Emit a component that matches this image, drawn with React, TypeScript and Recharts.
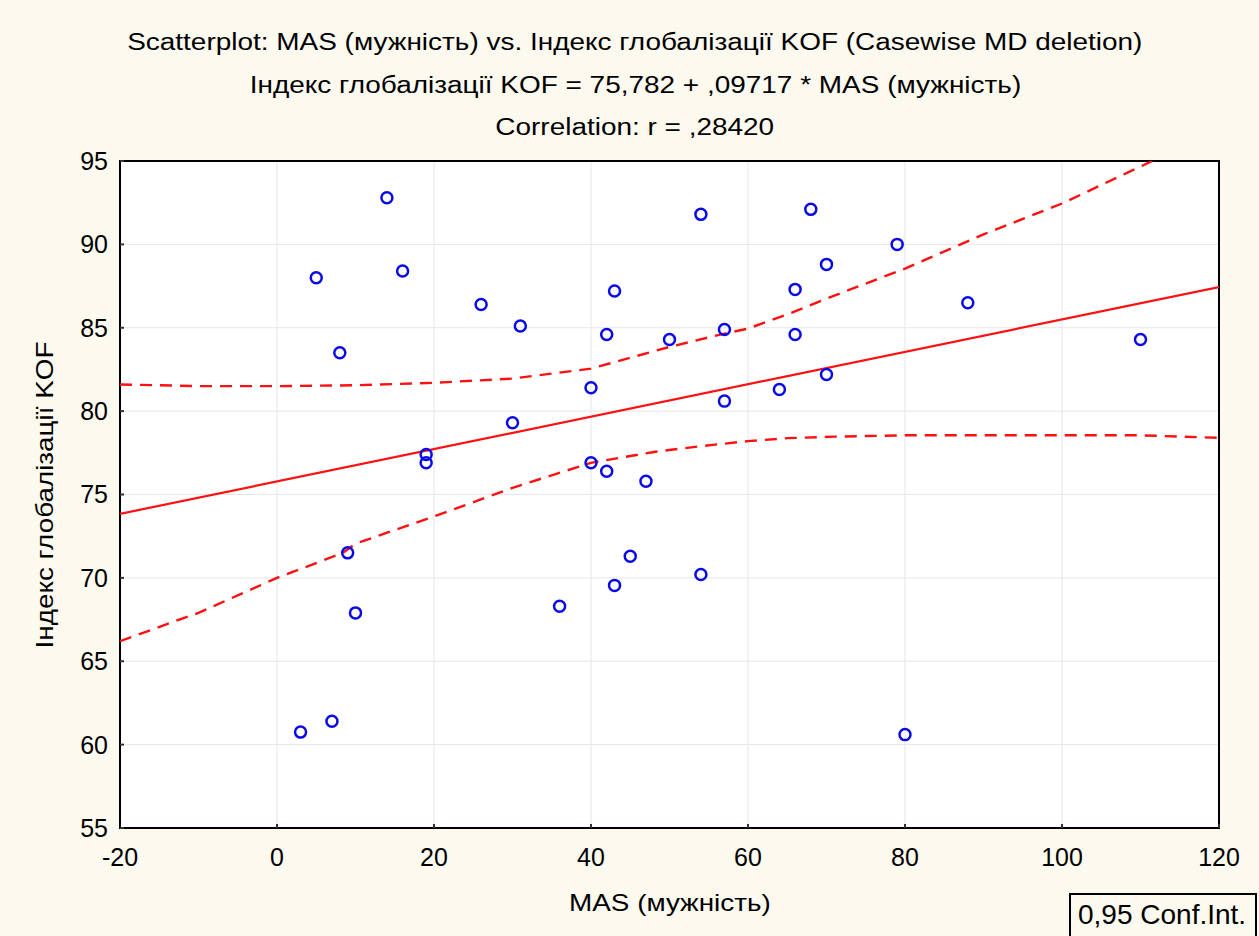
import React from 'react';
import { ScatterChart, Scatter, XAxis, YAxis, CartesianGrid, ReferenceArea } from 'recharts';

// Observed points: MAS (мужність) vs Індекс глобалізації KOF
const masValues = [3, 5, 7, 8, 9, 10, 14, 16, 19, 19, 26, 30, 31, 36, 40, 40, 42, 42, 43, 43, 45, 47, 50, 54, 54, 57, 57, 64, 66, 66, 68, 70, 70, 79, 80, 88, 110];
const kofValues = [60.75, 88.0, 61.4, 83.5, 71.5, 67.9, 92.8, 88.4, 77.4, 76.9, 86.4, 79.3, 85.1, 68.3, 81.4, 76.9, 84.6, 76.4, 87.2, 69.55, 71.3, 75.8, 84.3, 91.8, 70.2, 84.9, 80.6, 81.3, 87.3, 84.6, 92.1, 88.8, 82.2, 90.0, 60.6, 86.5, 84.3];

// Regression line (endpoints read at the axis limits)
const fitX = [-20, 120];
const fitY = [73.84, 87.44];

// 0.95 confidence band, upper and lower
const upperX = [-20, -10, 0, 10, 20, 30, 40, 50, 57, 60, 65, 70, 80, 90, 100, 111.5];
const upperY = [81.6, 81.5, 81.5, 81.55, 81.7, 81.95, 82.55, 83.85, 84.65, 84.95, 85.8, 86.75, 88.55, 90.6, 92.45, 95];
const lowerX = [-20, -13.6, -10, 0, 8.4, 10, 21, 30, 40, 48, 54, 60, 65, 71, 80, 100, 110, 120];
const lowerY = [66.2, 67.3, 67.9, 70.0, 71.5, 72.05, 73.85, 75.4, 76.9, 77.55, 77.9, 78.2, 78.38, 78.47, 78.55, 78.55, 78.55, 78.4];

const xTicks = [-20, 0, 20, 40, 60, 80, 100, 120];
const yTicks = [55, 60, 65, 70, 75, 80, 85, 90, 95];

const titleLines = [
  'Scatterplot: MAS (мужність) vs. Індекс глобалізації KOF (Casewise MD deletion)',
  'Індекс глобалізації KOF = 75,782 + ,09717 * MAS (мужність)',
  'Correlation: r = ,28420',
];
const xLabel = 'MAS (мужність)';
const yLabel = 'Індекс глобалізації KOF';
const legendText = '0,95 Conf.Int.';

const pts = masValues.map((x, i) => ({ x, y: kofValues[i] }));
const fit = fitX.map((x, i) => ({ x, y: fitY[i] }));
const upper = upperX.map((x, i) => ({ x, y: upperY[i] }));
const lower = lowerX.map((x, i) => ({ x, y: lowerY[i] }));

const FONT = '"Liberation Sans", Arial, sans-serif';
const RED = '#ff1010';
const BLUE = '#0a0ae6';

const Ring = (props: any) => {
  const { cx, cy } = props;
  if (cx == null || cy == null) return <g />;
  return <circle cx={cx} cy={cy} r={5.5} fill="none" stroke={BLUE} strokeWidth={2.5} />;
};
const NoDot = () => <g />;
const blank = () => '';

export default function App() {
  return (
    <div style={{ position: 'absolute', left: 0, top: 0, width: 1259, height: 936, background: '#fcf9ef', fontFamily: FONT, overflow: 'hidden' }}>
      {titleLines.map((t, i) => (
        <div key={i} style={{ position: 'absolute', left: 0, width: 1270, top: 28 + i * 42.5, textAlign: 'center', fontSize: 23, lineHeight: '28px', color: '#000', whiteSpace: 'nowrap' }}>
          <span style={{ display: 'inline-block', transform: 'scaleX(1.215)' }}>{t}</span>
        </div>
      ))}
      <ScatterChart width={1259} height={936} margin={{ top: 161, right: 40, bottom: 68, left: 0 }} style={{ position: 'absolute', left: 0, top: 0 }}>
        <CartesianGrid stroke="#e6e6ea" strokeWidth={1} fill="#ffffff" horizontalValues={yTicks} verticalValues={xTicks} />
        <XAxis
          type="number"
          dataKey="x"
          domain={[-20, 120]}
          ticks={xTicks}
          allowDataOverflow
          tickLine={{ stroke: '#333', strokeWidth: 2 }}
          tickSize={-4}
          axisLine={{ stroke: '#000', strokeWidth: 2 }}
          tickMargin={24}
          height={40}
          tick={{ fill: '#000', fontSize: 25, fontFamily: FONT }}
        />
        <XAxis
          xAxisId="top"
          orientation="top"
          type="number"
          domain={[-20, 120]}
          ticks={xTicks}
          allowDataOverflow
          tickLine={{ stroke: '#333', strokeWidth: 2 }}
          tickSize={-4}
          axisLine={false}
          tickFormatter={blank}
          height={0}
        />
        <YAxis
          type="number"
          dataKey="y"
          domain={[55, 95]}
          ticks={yTicks}
          allowDataOverflow
          tickLine={{ stroke: '#333', strokeWidth: 2 }}
          tickSize={-4}
          axisLine={{ stroke: '#000', strokeWidth: 2 }}
          tickMargin={16}
          width={120}
          tick={{ fill: '#000', fontSize: 25, fontFamily: FONT }}
        />
        <YAxis
          yAxisId="right"
          orientation="right"
          type="number"
          domain={[55, 95]}
          ticks={yTicks}
          allowDataOverflow
          tickLine={{ stroke: '#333', strokeWidth: 2 }}
          tickSize={-4}
          axisLine={false}
          tickFormatter={blank}
          width={0}
        />
        <ReferenceArea x1={-20} x2={120} y1={55} y2={95} fill="none" stroke="#000" strokeWidth={2} ifOverflow="visible" />
        <Scatter data={lower} shape={NoDot} line={{ stroke: RED, strokeWidth: 2.4, strokeDasharray: '12 8' }} lineType="joint" isAnimationActive={false} />
        <Scatter data={upper} shape={NoDot} line={{ stroke: RED, strokeWidth: 2.4, strokeDasharray: '12 8' }} lineType="joint" isAnimationActive={false} />
        <Scatter data={fit} shape={NoDot} line={{ stroke: RED, strokeWidth: 2.2 }} lineType="joint" isAnimationActive={false} />
        <Scatter data={pts} shape={Ring} isAnimationActive={false} />
      </ScatterChart>
      <div style={{ position: 'absolute', left: 0, top: 495, width: 90, height: 0 }}>
        <div style={{ position: 'absolute', left: 45, top: 0, transform: 'translate(-50%, -50%) rotate(-90deg) scaleX(1.16)', fontSize: 24, whiteSpace: 'nowrap', color: '#000' }}>{yLabel}</div>
      </div>
      <div style={{ position: 'absolute', left: 470, width: 400, top: 888, textAlign: 'center', fontSize: 24, lineHeight: '30px', color: '#000', whiteSpace: 'nowrap' }}>
        <span style={{ display: 'inline-block', transform: 'scaleX(1.16)' }}>{xLabel}</span>
      </div>
      <div style={{ position: 'absolute', left: 1069, top: 893, width: 188, height: 60, border: '2px solid #000', boxSizing: 'border-box', fontSize: 28, color: '#000', whiteSpace: 'nowrap', paddingLeft: 7, paddingTop: 4 }}>
        {legendText}
      </div>
    </div>
  );
}
